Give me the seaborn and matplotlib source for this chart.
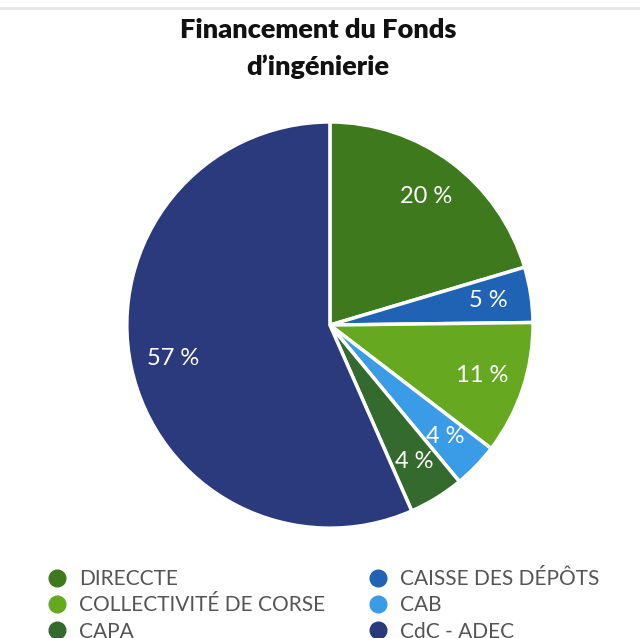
import matplotlib
matplotlib.use("Agg")
import matplotlib.pyplot as plt
import seaborn as sns
from matplotlib.lines import Line2D

# data
categories = ["DIRECCTE", "CAISSE DES DÉPÔTS", "COLLECTIVITÉ DE CORSE", "CAB", "CAPA", "CdC - ADEC"]
values = [20.4, 4.4, 10.6, 3.6, 4.4, 56.6]
pct_labels = ["20 %", "5 %", "11 %", "4 %", "4 %", "57 %"]
colors = ["#3e7a1d", "#2063b4", "#66a81f", "#3a9be6", "#356a2f", "#2b3a7c"]

sns.set_theme(style="white")
plt.rcParams['font.family'] = ['Lato', 'DejaVu Sans']

fig = plt.figure(figsize=(6.4, 6.38), dpi=100)
ax = fig.add_axes([0.195, 0.169, 0.641, 0.643])

wedges, texts, autotexts = ax.pie(
    values, colors=sns.color_palette(colors), startangle=90, counterclock=False,
    wedgeprops=dict(edgecolor="white", linewidth=2.5),
    autopct="%1.0f", pctdistance=0.79,
)
for t, lab in zip(autotexts, pct_labels):
    t.set_text(lab)
    t.set_color("white")
    t.set_fontsize(17)
ax.set_aspect("equal")
ax.set_xlim(-1.01, 1.01)
ax.set_ylim(-1.01, 1.01)

fig.text(0.497, 0.953, "Financement du Fonds", ha="center", va="center",
         fontsize=19.5, fontweight="heavy", color="#111111")
fig.text(0.497, 0.895, "d\u2019ingénierie", ha="center", va="center",
         fontsize=19.5, fontweight="heavy", color="#111111")

# faint frame line at top
fig.add_artist(Line2D([0, 1], [0.988, 0.988], color="#e6e6e6", linewidth=2))

# legend, row-wise order in two columns
order = [0, 2, 4, 1, 3, 5]
handles = [Line2D([], [], marker="o", linestyle="", markersize=12,
                  markerfacecolor=colors[i], markeredgecolor=colors[i]) for i in order]
fig.legend(handles, [categories[i] for i in order], ncol=2, loc="lower left",
           bbox_to_anchor=(0.04, -0.035), frameon=False, fontsize=15,
           labelcolor="#555555", handletextpad=0.45, columnspacing=1.95,
           labelspacing=0.3, handlelength=1.2)

fig.savefig("out.png", dpi=100, facecolor="white")
